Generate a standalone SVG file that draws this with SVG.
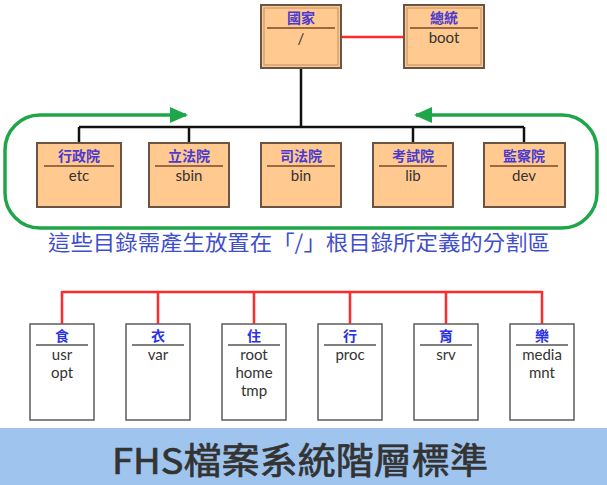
<svg xmlns="http://www.w3.org/2000/svg" width="607" height="485" viewBox="0 0 607 485">
<style>
.cj{font-family:"Noto Sans CJK TC","Noto Sans",sans-serif}
.lt{font-family:Lato,"Noto Sans",sans-serif;font-size:15px;fill:#333;text-anchor:middle}
.hd{font-family:"Noto Sans CJK TC",sans-serif;font-size:14px;font-weight:bold;fill:#4a3ad0;text-anchor:middle}
.hb{font-family:"Noto Sans CJK TC",sans-serif;font-size:14px;font-weight:bold;fill:#2b33e6;text-anchor:middle}
.pbox{fill:#ffc98f;stroke:#6a5443;stroke-width:2}
.wbox{fill:#fff;stroke:#666;stroke-width:1.6}
.div{stroke:#7a4a2a;stroke-width:1.6}
.divg{stroke:#555;stroke-width:1.4}
.blk{stroke:#111;stroke-width:2.5;fill:none}
.red{stroke:#ff2a2a;stroke-width:2.5;fill:none}
.grn{stroke:#1fa64a;stroke-width:3.5;fill:none}
</style>
<defs>
<marker id="ga" markerUnits="userSpaceOnUse" markerWidth="20" markerHeight="18" refX="16" refY="8" orient="auto">
<polygon points="0,0 18,8 0,16" fill="#1fa64a"/>
</marker>
</defs>
<rect width="607" height="485" fill="#fff"/>
<g id="connectors">
<line class="red" x1="342" y1="37" x2="404" y2="37"/>
<path class="blk" d="M301,68 V127 M79,127 H524 M79,127 V143 M189,127 V143 M413,127 V143 M524,127 V143"/>
<path class="grn" d="M301,228 H40 A35,35 0 0 1 5,193 V150 A35,35 0 0 1 40,115 H186" marker-end="url(#ga)"/>
<path class="grn" d="M301,228 H562 A35,35 0 0 0 597,193 V150 A35,35 0 0 0 562,115 H416" marker-end="url(#ga)"/>
<path class="red" d="M62,292 H542 M62,291 V324 M158,291 V324 M254,291 V324 M350,291 V324 M446,291 V324 M542,291 V324"/>
</g>
<g id="n-root">
<rect x="261" y="5" width="80" height="63" fill="#ffc98f" stroke="#6a5443" stroke-width="2"/>
<rect x="264" y="8" width="74" height="57" fill="none" stroke="#c89a70" stroke-width="1.2"/>
<text class="hd" x="301" y="23">國家</text>
<line class="div" x1="267" y1="28" x2="335" y2="28"/>
<text class="lt" x="301" y="44">/</text>
</g>
<g id="n-boot">
<rect x="404" y="5" width="80" height="63" fill="#ffc98f" stroke="#6a5443" stroke-width="2"/>
<rect x="407" y="8" width="74" height="57" fill="none" stroke="#c89a70" stroke-width="1.2"/>
<text class="hd" x="444" y="23">總統</text>
<line class="div" x1="410" y1="28" x2="478" y2="28"/>
<text class="lt" x="444" y="43" font-size="16">boot</text>
</g>
<g id="n-etc">
<rect class="pbox" x="37" y="143" width="84" height="64"/>
<text class="hd" x="79" y="161">行政院</text>
<line class="div" x1="44" y1="166" x2="114" y2="166"/>
<text class="lt" x="79" y="181">etc</text>
</g>
<g id="n-sbin">
<rect class="pbox" x="149" y="143" width="80" height="64"/>
<text class="hd" x="189" y="161">立法院</text>
<line class="div" x1="155" y1="166" x2="223" y2="166"/>
<text class="lt" x="189" y="181">sbin</text>
</g>
<g id="n-bin">
<rect class="pbox" x="261" y="143" width="80" height="64"/>
<text class="hd" x="301" y="161">司法院</text>
<line class="div" x1="267" y1="166" x2="335" y2="166"/>
<text class="lt" x="301" y="181">bin</text>
</g>
<g id="n-lib">
<rect class="pbox" x="373" y="143" width="80" height="64"/>
<text class="hd" x="413" y="161">考試院</text>
<line class="div" x1="379" y1="166" x2="447" y2="166"/>
<text class="lt" x="413" y="181">lib</text>
</g>
<g id="n-dev">
<rect class="pbox" x="484" y="143" width="81" height="64"/>
<text class="hd" x="524" y="161">監察院</text>
<line class="div" x1="490" y1="166" x2="558" y2="166"/>
<text class="lt" x="524" y="181">dev</text>
</g>
<text class="cj" x="48" y="250" font-size="21" fill="#3f4fcc" textLength="502" lengthAdjust="spacingAndGlyphs">這些目錄需產生放置在「/」根目錄所定義的分割區</text>
<g id="n-food">
<rect class="wbox" x="30" y="324" width="64" height="96"/>
<text class="hb" x="62" y="341">食</text>
<line class="divg" x1="36" y1="345" x2="88" y2="345"/>
<text class="lt" x="62" y="360">usr</text>
<text class="lt" x="62" y="378">opt</text>
</g>
<g id="n-cloth">
<rect class="wbox" x="126" y="324" width="64" height="96"/>
<text class="hb" x="158" y="341">衣</text>
<line class="divg" x1="132" y1="345" x2="184" y2="345"/>
<text class="lt" x="158" y="360">var</text>
</g>
<g id="n-live">
<rect class="wbox" x="222" y="324" width="64" height="96"/>
<text class="hb" x="254" y="341">住</text>
<line class="divg" x1="228" y1="345" x2="280" y2="345"/>
<text class="lt" x="254" y="360">root</text>
<text class="lt" x="254" y="378">home</text>
<text class="lt" x="254" y="396">tmp</text>
</g>
<g id="n-move">
<rect class="wbox" x="318" y="324" width="64" height="96"/>
<text class="hb" x="350" y="341">行</text>
<line class="divg" x1="324" y1="345" x2="376" y2="345"/>
<text class="lt" x="350" y="360">proc</text>
</g>
<g id="n-edu">
<rect class="wbox" x="414" y="324" width="64" height="96"/>
<text class="hb" x="446" y="341">育</text>
<line class="divg" x1="420" y1="345" x2="472" y2="345"/>
<text class="lt" x="446" y="360">srv</text>
</g>
<g id="n-fun">
<rect class="wbox" x="510" y="324" width="64" height="96"/>
<text class="hb" x="542" y="341">樂</text>
<line class="divg" x1="516" y1="345" x2="568" y2="345"/>
<text class="lt" x="542" y="360">media</text>
<text class="lt" x="542" y="378">mnt</text>
</g>
<g id="banner">
<rect x="0" y="428" width="607" height="57" fill="#9fc5ef"/>
<text class="cj" x="112" y="474" font-size="36" fill="#333" stroke="#333" stroke-width="0.7" textLength="376" lengthAdjust="spacingAndGlyphs">FHS檔案系統階層標準</text>
</g>
</svg>
